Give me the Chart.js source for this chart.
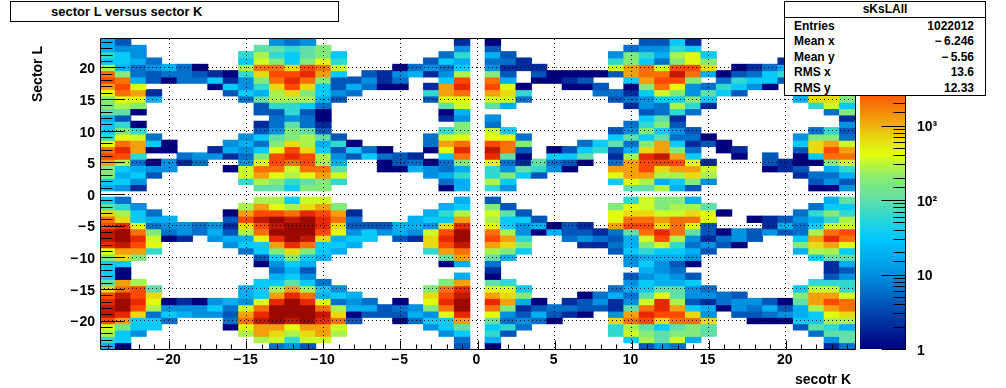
<!DOCTYPE html>
<html>
<head>
<meta charset="utf-8">
<style>
html,body{margin:0;padding:0;background:#fff;overflow:hidden}
#wrap{position:relative;width:1006px;height:388px;font-family:"Liberation Sans",Arial,sans-serif;font-weight:bold;color:#000}
canvas{position:absolute;left:0;top:0}
.t{position:absolute;white-space:nowrap}
#titlebox{position:absolute;left:10px;top:1px;width:327px;height:19px;border:1px solid #000;background:#fff}
#stats{position:absolute;left:784px;top:1px;width:200px;height:93px;border:1px solid #000;background:#fff;font-size:12px}
#stats .hd{position:absolute;left:0;right:0;top:0;height:15px;line-height:15px;text-align:center;border-bottom:1px solid #000}
#stats .l{position:absolute;left:9px;line-height:14px}
#stats .v{position:absolute;right:11px;line-height:14px}
</style>
</head>
<body>
<div id="wrap">
<canvas id="main" width="1006" height="388"></canvas>
<canvas id="zbar" width="1006" height="388"></canvas>
<div id="titlebox"><span class="t" style="left:40px;top:2px;font-size:13px;line-height:16px">sector L versus sector K</span></div>
<div class="t" style="left:37px;top:74px;font-size:14px;line-height:16px;transform:translate(-50%,-50%) rotate(-90deg)">Sector L</div>
<div class="t" style="right:155px;top:371px;font-size:14px;line-height:16px">secotr K</div>
<div id="stats">
  <div class="hd">sKsLAll</div>
  <div class="l" style="top:17px">Entries</div><div class="v" style="top:17px">1022012</div>
  <div class="l" style="top:32px">Mean x</div><div class="v" style="top:32px">&minus;&#8201;6.246</div>
  <div class="l" style="top:48px">Mean y</div><div class="v" style="top:48px">&minus;&#8201;5.56</div>
  <div class="l" style="top:63px">RMS x</div><div class="v" style="top:63px">13.6</div>
  <div class="l" style="top:79px">RMS y</div><div class="v" style="top:79px">12.33</div>
</div>
</div>
<script src="https://cdn.jsdelivr.net/npm/chart.js@4"></script>
<script>
const sectorK=[-24,-23,-22,-21,-20,-19,-18,-17,-16,-15,-14,-13,-12,-11,-10,-9,-8,-7,-6,-5,-4,-3,-2,-1,0,1,2,3,4,5,6,7,8,9,10,11,12,13,14,15,16,17,18,19,20,21,22,23,24];
const sectorL=[24,23,22,21,20,19,18,17,16,15,14,13,12,11,10,9,8,7,6,5,4,3,2,1,0,-1,-2,-3,-4,-5,-6,-7,-8,-9,-10,-11,-12,-13,-14,-15,-16,-17,-18,-19,-20,-21,-22,-23,-24];
const xMajorTicks=[-20,-15,-10,-5,0,5,10,15,20];
const yMajorTicks=[-20,-15,-10,-5,0,5,10,15,20];
const zLabels={1:'1',10:'10',100:'10\u00b2',1000:'10\u00b3'};

const y_p24=[18,4,0,0,0,0,0,0,0,0,0,10,6,10,0,0, 0,0,0,0,0,0,0,2, 0, 1,0,0,0,0,0,0,0, 0,0,4,4,33,2,0,0,0,0,0,0,0,0,0,0];
const y_p23=[18,10,10,0,0,0,0,0,0,0,100,100,60,100,180,0, 0,0,0,0,0,0,0,10, 0, 4,0,0,0,0,0,0,0, 0,6,10,10,60,33,0,0,0,0,0,0,0,0,0,0];
const y_p22=[60,33,10,0,0,0,0,0,0,60,260,60,33,100,180,33, 0,0,0,0,0,0,6,60, 0, 18,4,0,0,0,0,0,0, 10,180,60,18,260,420,33,0,0,0,0,0,0,0,0,0];
const y_p21=[33,33,18,6,0,0,0,0,0,33,340,180,33,180,420,60, 0,0,0,0,0,4,33,18, 0, 6,6,2,0,0,0,0,0, 60,180,33,6,180,420,180,0,0,0,0,2,0,0,0,0];
const y_p20=[260,18,6,10,18,6,1,0,0,260,2000,2000,650,3000,2000,340, 0,0,0,1,6,10,6,33, 0, 10,2,2,2,0,0,0,0, 340,1200,2000,340,3000,3000,650,0,1,2,6,18,0,0,0,0];
const y_p19=[2000,180,6,4,6,6,4,2,1,60,650,3000,3000,5000,1200,33, 0,4,2,10,18,2,10,260, 0, 180,4,0,4,1,1,1,1, 4,1200,2000,2000,7500,2000,18,1,4,6,33,60,0,0,0,0];
const y_p18=[3000,2000,18,4,1,6,6,33,2,10,180,2000,5000,2000,180,4, 4,10,2,6,0,0,33,3000, 0, 2000,18,0,1,1,2,4,0, 0,33,1200,3000,3000,180,0,6,60,33,33,4,0,0,0,0];
const y_p17=[1200,3000,420,0,0,0,0,1,33,10,60,650,3000,650,33,4, 18,6,1,1,0,2,1200,5000, 0, 3000,420,1,0,0,1,1,4, 0,1,180,2000,420,10,6,60,33,10,1,0,0,0,0,0];
const y_p16=[420,2000,1200,2,0,0,0,0,4,33,18,260,650,180,33,10, 6,0,0,0,0,60,1200,2000, 0, 1200,650,60,0,0,0,0,6, 6,2,33,340,180,10,100,33,4,0,0,0,0,0,0,0];
const y_p15=[180,420,420,18,0,0,0,0,0,6,100,260,260,260,18,4, 0,0,0,0,0,4,420,420, 0, 340,340,6,0,0,0,0,0, 4,6,10,33,33,180,33,0,0,0,0,0,18,650,650,180];
const y_p14=[180,260,180,0,0,0,0,0,0,0,4,60,60,33,6,0, 0,0,0,0,0,0,100,340, 0, 100,18,0,0,0,0,0,0, 0,2,10,6,260,60,2,0,0,0,0,0,0,60,340,33];
const y_p13=[100,100,1,0,0,0,0,0,0,0,4,4,60,4,1,0, 0,0,0,0,0,0,1,18, 0, 0,0,0,0,0,0,0,0, 0,0,4,6,60,6,0,0,0,0,0,0,0,0,6,180];
const y_p12=[18,4,0,0,0,0,0,0,0,0,0,6,10,6,1,0, 0,0,0,0,0,0,2,10, 0, 10,0,0,0,0,0,0,0, 0,0,33,100,2,0,0,0,0,0,0,0,0,0,0,2];
const y_p11=[33,60,1,0,0,0,0,0,0,0,2,6,100,6,2,0, 0,0,0,0,0,0,0,180, 0, 6,0,0,0,0,0,0,0, 0,6,60,180,4,0,0,0,0,0,0,0,0,0,0,10];
const y_p10=[33,180,60,0,0,0,0,0,0,0,4,10,180,100,4,0, 0,0,0,0,0,0,60,180, 0, 340,33,0,0,0,0,0,0, 4,10,180,33,10,4,0,0,0,0,0,0,0,6,60,4];
const y_p9=[60,420,340,6,0,0,0,0,0,10,33,100,180,260,100,4, 0,0,0,0,0,6,340,420, 0, 420,420,6,0,0,0,0,0, 33,100,33,100,6,6,1,0,0,0,0,0,10,180,180,6];
const y_p8=[420,2000,1200,33,1,0,0,0,10,18,6,180,650,260,18,60, 1,0,0,0,0,6,1200,2000, 0, 3000,2000,180,0,0,0,6,33, 100,6,180,1200,33,2,4,1,0,0,0,0,33,650,1200,340];
const y_p7=[2000,5000,1200,1,1,0,0,2,18,10,33,420,3000,650,33,4, 33,6,1,0,0,1,420,5000, 0, 7500,2000,4,0,1,4,33,60, 4,18,650,1200,180,6,0,1,2,0,0,0,4,650,3000,1200];
const y_p6=[3000,3000,60,0,0,6,10,10,2,6,180,3000,5000,3000,260,10, 4,33,6,4,2,0,33,2000, 0, 5000,100,1,0,33,33,100,0, 2,260,5000,7500,1200,33,0,0,1,0,4,0,1,33,2000,2000];
const y_p5=[1200,260,6,1,10,2,6,0,0,10,420,3000,2000,3000,260,18, 0,0,1,4,6,1,6,180, 0, 420,6,2,100,6,4,1,0, 6,1200,3000,3000,3000,420,2,0,0,0,4,2,1,1,180,340];
const y_p4=[180,33,18,10,10,0,0,0,1,340,2000,2000,340,2000,2000,100, 0,0,1,1,18,10,6,18, 0, 60,10,100,60,10,1,0,0, 1200,1200,3000,650,1200,1200,340,0,0,0,1,2,4,0,18,60];
const y_p3=[180,18,33,4,0,0,0,0,0,340,1200,420,260,420,1200,340, 0,0,0,0,0,10,18,60, 0, 60,180,33,4,0,0,0,0, 420,1200,1200,260,260,650,260,0,0,0,0,0,2,6,6,18];
const y_p2=[33,33,10,0,0,0,0,0,0,60,260,180,60,100,180,60, 0,0,0,0,0,0,6,18, 0, 260,33,0,0,0,0,0,0, 33,420,260,18,33,180,10,0,0,0,0,0,0,4,10,4];
const y_p1=[18,10,2,0,0,0,0,0,0,0,100,100,33,180,180,0, 0,0,0,0,0,0,1,18, 0, 60,10,0,0,0,0,0,0, 0,100,100,260,18,4,0,0,0,0,0,0,0,1,1,10];
const y_0=[0,0,0,0,0,0,0,0,0,0,0,0,0,0,0,0, 0,0,0,0,0,0,0,0, 0, 0,0,0,0,0,0,0,0, 0,0,0,0,0,0,0,0,0,0,0,0,0,0,0,0];
const y_m1=[33,6,0,0,0,0,0,0,0,0,260,260,33,340,340,0, 0,0,0,0,0,0,0,18, 0, 4,0,0,0,0,0,0,0, 0,60,340,180,180,18,0,0,0,0,0,0,0,0,18,100];
const y_m2=[100,60,10,0,0,0,0,0,0,260,1200,420,260,650,1200,180, 0,0,0,0,0,0,18,33, 0, 180,4,0,0,0,0,0,0, 180,420,340,180,260,260,100,0,0,0,0,0,0,6,33,33];
const y_m3=[650,260,33,6,0,0,0,0,1,1200,3000,3000,2000,5000,3000,1200, 2,0,0,0,0,18,60,260, 0, 340,100,4,0,0,0,0,0, 420,650,650,340,340,650,420,1,0,0,0,0,6,60,180,60];
const y_m4=[2000,650,33,18,18,0,0,0,4,3000,7500,11000,7500,11000,5000,2000, 6,0,0,0,18,33,33,1200, 0, 260,33,33,4,0,0,0,0, 420,2000,2000,1200,2000,2000,420,0,0,1,2,4,10,18,60,260];
const y_m5=[3000,5000,420,6,10,10,6,10,2,650,3000,7500,11000,11000,5000,650, 4,4,4,18,18,10,650,5000, 0, 420,33,10,18,1,4,2,0, 1200,3000,3000,650,2000,420,4,0,0,0,2,18,6,33,340,340];
const y_m6=[7500,11000,2000,180,6,10,6,18,4,260,2000,11000,11000,11000,3000,420, 10,33,10,18,10,340,3000,11000, 0, 2000,260,10,1,18,4,4,2, 6,100,2000,5000,2000,100,4,1,10,4,10,4,6,260,2000,3000];
const y_m7=[7500,11000,5000,340,1,2,0,10,18,18,420,5000,11000,7500,650,18, 33,33,0,4,2,650,5000,11000, 0, 3000,1200,60,0,0,6,10,6, 4,18,340,3000,260,10,2,6,10,4,0,0,33,1200,5000,2000];
const y_m8=[5000,7500,3000,420,0,0,0,0,10,33,33,1200,5000,2000,33,33, 18,0,0,0,0,650,3000,7500, 0, 1200,650,180,0,0,0,2,2, 6,18,180,340,60,6,10,4,1,0,0,0,180,650,1200,420];
const y_m9=[420,1200,1200,60,0,0,0,0,0,6,33,180,650,180,33,18, 0,0,0,0,0,60,1200,2000, 0, 260,180,33,0,0,0,0,0, 4,33,60,33,33,18,4,0,0,0,0,0,18,260,260,33];
const y_m10=[180,650,180,0,0,0,0,0,0,0,4,33,180,33,18,0, 0,0,0,0,0,0,100,1200, 0, 100,18,0,0,0,0,0,0, 0,10,18,18,18,10,0,0,0,0,0,0,0,33,100,100];
const y_m11=[33,33,0,0,0,0,0,0,0,0,1,10,33,18,0,0, 0,0,0,0,0,0,1,18, 0, 6,0,0,0,0,0,0,0, 0,10,33,10,4,1,0,0,0,0,0,0,0,0,2,18];
const y_m12=[33,1,0,0,0,0,0,0,0,0,0,6,18,4,0,0, 0,0,0,0,0,0,0,0, 0, 2,0,0,0,0,0,0,0, 0,0,18,10,6,0,0,0,0,0,0,0,0,0,2,4];
const y_m13=[33,1,0,0,0,0,0,0,0,0,0,18,33,10,0,0, 0,0,0,0,0,0,0,18, 0, 1,0,0,0,0,0,0,0, 0,4,10,18,10,4,0,0,0,0,0,0,0,0,4,10];
const y_m14=[100,1200,260,0,0,0,0,0,0,0,33,33,100,33,6,0, 0,0,0,0,0,0,180,1200, 0, 100,60,0,0,0,0,0,0, 0,10,33,18,18,33,0,0,0,0,0,0,0,60,60,60];
const y_m15=[650,2000,3000,100,0,0,0,0,0,18,33,260,1200,260,33,10, 0,0,0,0,0,180,2000,5000, 0, 420,420,33,0,0,0,0,0, 6,18,33,100,100,10,6,0,0,0,0,0,33,340,340,60];
const y_m16=[3000,7500,3000,650,0,0,0,0,0,18,33,1200,5000,2000,18,33, 18,0,0,0,0,650,3000,7500, 0, 1200,650,180,0,0,0,1,6, 18,6,100,420,100,10,10,6,4,0,0,0,180,1200,1200,340];
const y_m17=[5000,11000,5000,420,1,2,1,10,18,10,420,5000,11000,5000,420,6, 10,6,0,1,0,420,5000,11000, 0, 5000,1200,18,1,0,2,4,10, 2,10,340,5000,260,4,2,6,10,10,4,1,100,1200,3000,2000];
const y_m18=[7500,11000,3000,260,10,10,10,33,6,340,2000,11000,11000,11000,2000,260, 18,18,4,6,10,180,2000,11000, 0, 2000,180,2,4,6,6,4,4, 2,100,2000,5000,1200,33,18,1,10,6,18,4,18,260,1200,2000];
const y_m19=[7500,5000,650,6,33,18,10,10,4,1200,5000,11000,11000,11000,7500,650, 1,4,4,4,18,10,420,5000, 0, 420,10,4,18,4,2,1,0, 10,1200,5000,3000,3000,650,10,0,4,4,6,10,18,33,420,650];
const y_m20=[3000,1200,33,33,6,0,0,0,6,2000,7500,11000,7500,11000,5000,2000, 4,0,0,1,6,33,33,1200, 0, 100,6,10,6,1,0,0,0, 650,2000,3000,650,2000,2000,650,0,0,1,1,1,33,33,260,260];
const y_m21=[340,140,33,33,0,0,0,0,1,420,1200,1200,420,1200,1200,340, 0,0,0,0,0,10,33,100, 0, 33,60,6,0,0,0,0,0, 60,260,100,33,100,180,100,0,0,0,0,0,4,100,60,18];
const y_m22=[260,33,10,0,0,0,0,0,0,260,1200,650,260,650,1200,260, 0,0,0,0,0,0,10,33, 0, 60,4,0,0,0,0,0,0, 60,340,180,100,180,180,100,0,0,0,0,0,0,6,100,100];
const y_m23=[60,33,0,0,0,0,0,0,0,0,260,340,60,340,340,0, 0,0,0,0,0,0,0,6, 0, 18,0,0,0,0,0,0,0, 0,33,260,100,340,18,0,0,0,0,0,0,0,0,10,100];
const y_m24=[18,1,0,0,0,0,0,0,0,0,0,6,10,4,0,0, 0,0,0,0,0,0,0,4, 0, 1,0,0,0,0,0,0,0, 0,0,4,10,6,0,0,0,0,0,0,0,0,0,2,6];

const rows=[y_p24,y_p23,y_p22,y_p21,y_p20,y_p19,y_p18,y_p17,y_p16,y_p15,y_p14,y_p13,y_p12,y_p11,y_p10,y_p9,y_p8,y_p7,y_p6,y_p5,y_p4,y_p3,y_p2,y_p1,y_0,y_m1,y_m2,y_m3,y_m4,y_m5,y_m6,y_m7,y_m8,y_m9,y_m10,y_m11,y_m12,y_m13,y_m14,y_m15,y_m16,y_m17,y_m18,y_m19,y_m20,y_m21,y_m22,y_m23,y_m24];

const Z_MAX=14500;
const paletteStops=[[0,'#00007f'],[0.24,'#0090e0'],[0.355,'#00c8ff'],[0.427,'#30d8d0'],[0.48,'#60e0a8'],[0.553,'#88ec70'],[0.625,'#e0ff10'],[0.67,'#e8e010'],[0.72,'#f0b010'],[0.793,'#fa7008'],[0.835,'#ff4800'],[0.89,'#e82800'],[1,'#800000']];
function hex(c){return [1,3,5].map(i=>parseInt(c.substr(i,2),16));}
function colorAt(t){
  t=Math.max(0,Math.min(1,t));
  for(let i=1;i<paletteStops.length;i++){
    const [t1,c1]=paletteStops[i];
    if(t<=t1){
      const [t0,c0]=paletteStops[i-1];
      const f=(t-t0)/(t1-t0),a=hex(c0),b=hex(c1);
      return 'rgb('+a.map((v,k)=>Math.round(v+(b[k]-v)*f)).join(',')+')';
    }
  }
  return '#800000';
}
function colorOf(v){return colorAt(Math.log10(v)/Math.log10(Z_MAX));}

const font={family:'"Liberation Sans",Arial,sans-serif',weight:'bold',size:14};
Chart.defaults.animation=false;
Chart.defaults.responsive=false;

const datasets=rows.map((row,j)=>({
  label:'L '+sectorL[j],
  data:row.map((v,i)=>({x:sectorK[i],y:[sectorL[j]-0.5,sectorL[j]+0.5],v})).filter(p=>p.v>0),
  backgroundColor:ctx=>ctx.raw?colorOf(ctx.raw.v):'transparent',
  borderWidth:0,
  inflateAmount:0.5,
  grouped:false,
  categoryPercentage:1,
  barPercentage:1
}));

const label=v=>v<0?'\u2212\u200a'+(-v):String(v);
const frame={
  id:'frame',
  afterDraw(c){
    const {ctx,chartArea:a,scales:{x,y}}=c;
    ctx.save();
    ctx.strokeStyle='#000';ctx.lineWidth=1;ctx.beginPath();
    const l=a.left+.5,r=a.right+.5,t=a.top-.5,b=a.bottom+.5;
    sectorK.forEach(v=>{
      const p=Math.round(x.getPixelForValue(v))+.5;
      ctx.moveTo(p,b);ctx.lineTo(p,b-(xMajorTicks.includes(v)?9:5));
    });
    sectorL.forEach(v=>{
      const p=Math.round(y.getPixelForValue(v))+.5;
      ctx.moveTo(l,p);ctx.lineTo(l+(yMajorTicks.includes(v)?24:12),p);
    });
    ctx.rect(l,t,r-l,b-t);
    ctx.stroke();ctx.restore();
  }
};
new Chart(document.getElementById('main'),{
  type:'bar',
  data:{datasets},
  plugins:[frame],
  options:{
    layout:{padding:{left:0,right:151,top:39,bottom:0}},
    plugins:{legend:{display:false},tooltip:{enabled:false},title:{display:false}},
    scales:{
      x:{type:'linear',offset:false,min:-24.5,max:24.5,
        afterFit(s){s.height=39;},
        afterBuildTicks(s){s.ticks=xMajorTicks.map(value=>({value}));},
        border:{display:false,dash:[1,3]},
        grid:{offset:false,z:1,drawTicks:false,lineWidth:1,color:'#000'},
        ticks:{autoSkip:false,maxRotation:0,minRotation:0,padding:3,labelOffset:-1,color:'#000',font,callback:label}},
      y:{type:'linear',min:-24.5,max:24.5,
        afterFit(s){s.width=100;},
        afterBuildTicks(s){s.ticks=yMajorTicks.map(value=>({value}));},
        border:{display:false,dash:[1,3]},
        grid:{z:1,drawTicks:false,lineWidth:1,color:'#000'},
        ticks:{autoSkip:false,padding:5,labelOffset:2,color:'#000',font,callback:label}}
    }
  }
});

/* colour scale */
const Z_BANDS=100;
const bandEdges=Array.from({length:Z_BANDS+1},(_,i)=>Math.pow(Z_MAX,i/Z_BANDS));
const zDatasets=bandEdges.slice(0,-1).map((lo,i)=>({
  data:[[lo,bandEdges[i+1]]],
  backgroundColor:colorAt((i+0.5)/Z_BANDS),
  borderWidth:0,inflateAmount:0.4,grouped:false,categoryPercentage:1,barPercentage:1
}));
const zFrame={
  id:'zFrame',
  afterDraw(c){
    const {ctx,chartArea:a,scales:{y}}=c;
    ctx.save();ctx.strokeStyle='#000';ctx.lineWidth=1;ctx.beginPath();
    const r=a.right+.5;
    y.ticks.forEach(t=>{
      if(t.value>=Z_MAX)return;
      const p=Math.round(y.getPixelForValue(t.value))+.5;
      ctx.moveTo(r,p);ctx.lineTo(r-(zLabels[t.value]?24:12),p);
    });
    ctx.moveTo(r,a.top);ctx.lineTo(r,a.bottom+1);
    ctx.stroke();ctx.restore();
  }
};
new Chart(document.getElementById('zbar'),{
  type:'bar',
  data:{labels:['z'],datasets:zDatasets},
  plugins:[zFrame],
  options:{
    layout:{padding:{left:860,right:0,top:39,bottom:39}},
    plugins:{legend:{display:false},tooltip:{enabled:false}},
    scales:{
      x:{display:false},
      y:{type:'logarithmic',position:'right',min:1,max:Z_MAX,
        afterFit(s){s.width=101;},
        border:{display:false},
        grid:{display:false,drawTicks:false},
        ticks:{autoSkip:false,padding:12,labelOffset:2,color:'#000',font,maxRotation:0,
          callback:v=>zLabels[v]||''}}
    }
  }
});
</script>
</body>
</html>
